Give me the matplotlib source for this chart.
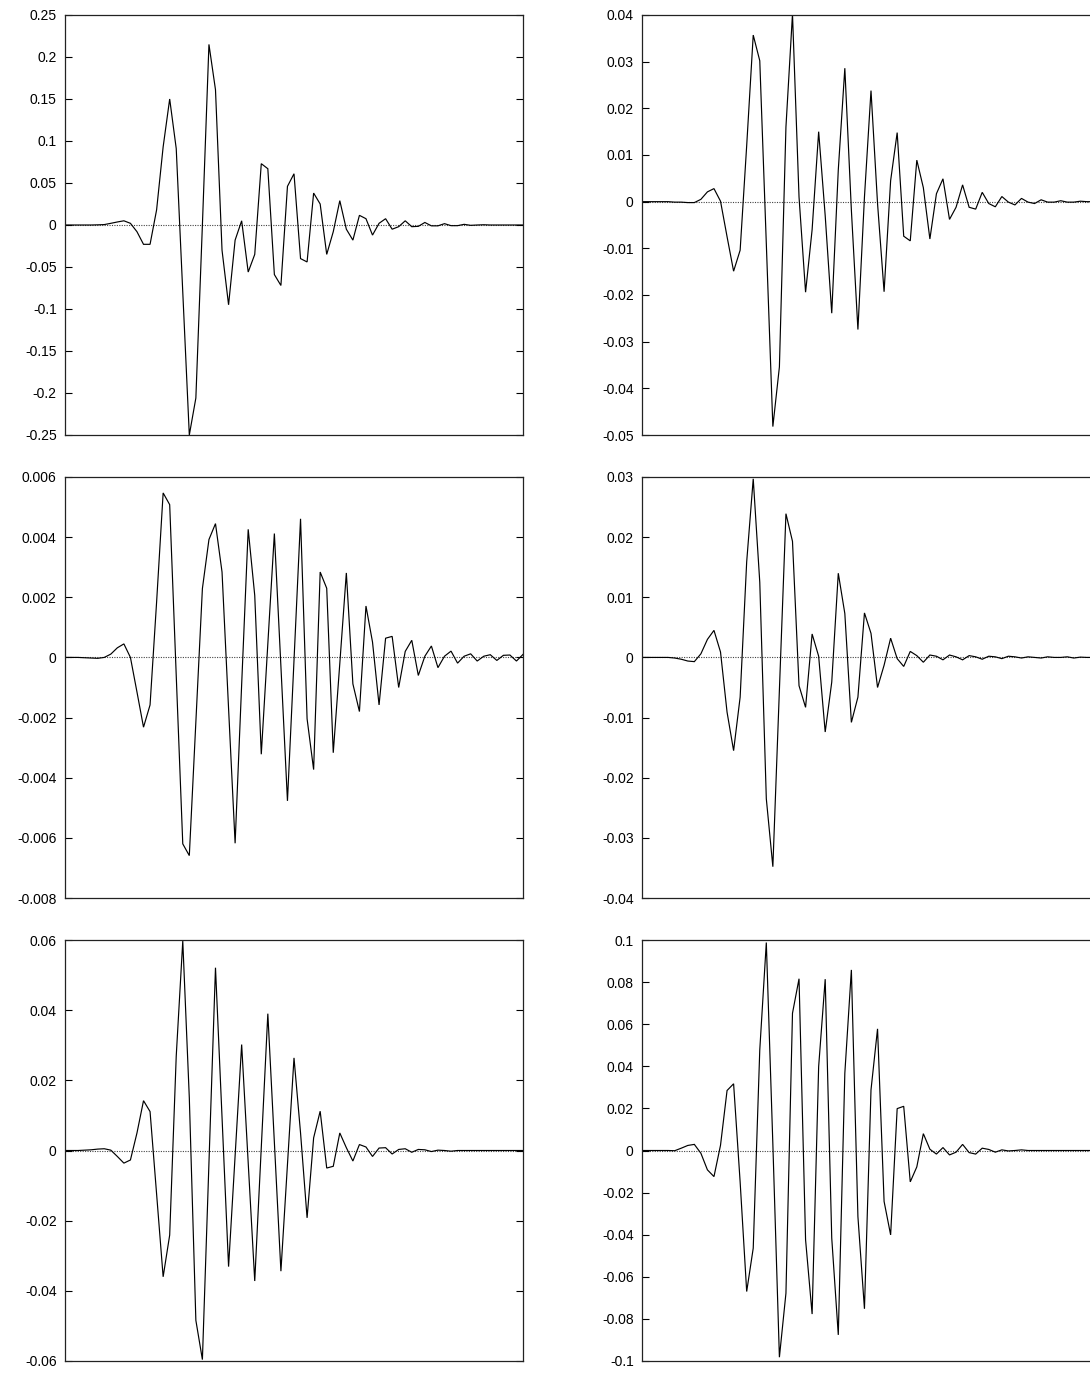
import numpy as np
import matplotlib
matplotlib.use("Agg")
import matplotlib.pyplot as plt

plt.rcParams["font.family"] = ["Liberation Sans", "DejaVu Sans"]
plt.rcParams["axes.unicode_minus"] = False

# Sample index shared by all six traces
n_samples = 71

trace_a = [0, 0, 0, 0, 0, 0.0002, 0.0005, 0.002, 0.0036, 0.005,
           0.002, -0.008, -0.023, -0.023, 0.018, 0.093, 0.150, 0.091, -0.08, -0.25,
           -0.206, 0.0, 0.215, 0.161, -0.030, -0.095, -0.018, 0.005, -0.056, -0.035,
           0.073, 0.067, -0.059, -0.072, 0.046, 0.061, -0.040, -0.044, 0.038, 0.025,
           -0.035, -0.008, 0.029, -0.005, -0.018, 0.0115, 0.0075, -0.012, 0.002, 0.0075,
           -0.005, -0.002, 0.005, -0.002, -0.0016, 0.003, -0.001, -0.001, 0.0016, -0.0008,
           -0.0008, 0.0008, -0.0004, 0, 0.0003, 0, 0, 0, 0, 0, 0]

trace_b = [0, 0, 0, 0, 0, -0.0001, -0.0001, -0.0002, -0.0002, 0.0005,
           0.0021, 0.0028, 0.0001, -0.0075, -0.0149, -0.0104, 0.012, 0.0357, 0.0302, -0.009,
           -0.0482, -0.0354, 0.016, 0.0402, 0.001, -0.0194, -0.006, 0.015, -0.003, -0.0239,
           0.0068, 0.0286, -0.0018, -0.0274, 0.001, 0.0238, -0.0004, -0.0193, 0.0045, 0.0148,
           -0.0074, -0.0084, 0.0089, 0.003, -0.008, 0.0017, 0.0049, -0.0038, -0.0012, 0.0036,
           -0.0012, -0.0016, 0.002, -0.0004, -0.0011, 0.0011, -0.0001, -0.0007, 0.0007, -0.0001,
           -0.0004, 0.0004, -0.0001, -0.0001, 0.0002, -0.0001, -0.0001, 0.0001, 0, 0, 0]

trace_c = [0, 0, 0, -0.00001, -0.00002, -0.00003, 0, 0.00011, 0.00032, 0.00045,
           0.0, -0.00115, -0.00232, -0.00158, 0.00184, 0.00547, 0.00508, -0.0006, -0.0062, -0.00659,
           -0.00215, 0.00229, 0.00392, 0.00445, 0.00284, -0.0017, -0.00618, -0.0009, 0.00426, 0.00206,
           -0.00322, 0.00045, 0.00412, -0.0003, -0.00477, -0.0001, 0.00461, -0.00204, -0.00373, 0.00284,
           0.0023, -0.00317, -0.0002, 0.00281, -0.00088, -0.0018, 0.00171, 0.00051, -0.00158, 0.00064,
           0.0007, -0.001, 0.0002, 0.00057, -0.0006, 0.00004, 0.00038, -0.00034, 0.00004, 0.00021,
           -0.00019, 0.00004, 0.00012, -0.00012, 0.00004, 0.00009, -0.0001, 0.00007, 0.00008, -0.00012,
           0.0001]

trace_d = [0, 0, 0, 0, 0, -0.0001, -0.0003, -0.0006, -0.0007, 0.0006,
           0.003, 0.0045, 0.0009, -0.0091, -0.0155, -0.0066, 0.0159, 0.0297, 0.0125, -0.0235,
           -0.0348, -0.0054, 0.0239, 0.0193, -0.0047, -0.0083, 0.0039, 0.0002, -0.0124, -0.0041,
           0.014, 0.0073, -0.0108, -0.0066, 0.0074, 0.004, -0.005, -0.0013, 0.0032, -0.0002,
           -0.0015, 0.001, 0.0003, -0.0008, 0.0004, 0.0002, -0.0004, 0.0004, 0.0001, -0.0004,
           0.0003, 0.0001, -0.0003, 0.0002, 0.0001, -0.0002, 0.0002, 0.0001, -0.0001, 0.0001,
           0, -0.0001, 0.0001, 0, 0, 0.0001, -0.0001, 0.00005, 0, 0, 0]

trace_e = [0, 0, 0, 0.0001, 0.0002, 0.0004, 0.0005, 0.0001, -0.0017, -0.0036,
           -0.0027, 0.005, 0.0142, 0.0111, -0.0124, -0.036, -0.0241, 0.0269, 0.0597, 0.015,
           -0.0484, -0.0596, -0.0036, 0.0521, 0.0095, -0.0331, -0.0015, 0.0302, -0.0035, -0.0372,
           0.0009, 0.039, 0.0023, -0.0344, -0.004, 0.0264, 0.005, -0.0192, 0.0036, 0.0112,
           -0.005, -0.0045, 0.005, 0.0008, -0.003, 0.0017, 0.001, -0.0017, 0.0007, 0.0008,
           -0.001, 0.0003, 0.0005, -0.0005, 0.0003, 0.0002, -0.0003, 0.0001, 0, -0.0002,
           0, 0, 0, 0, 0, 0, 0, 0, 0, 0, 0]

trace_f = [0, 0, 0, 0, 0, -0.0001, 0.0011, 0.0024, 0.0029, -0.0013,
           -0.0092, -0.0124, 0.0025, 0.0285, 0.0317, -0.015, -0.067, -0.0464, 0.0478, 0.0988,
           0.003, -0.0982, -0.0678, 0.0652, 0.0816, -0.0424, -0.0777, 0.0399, 0.0814, -0.0416,
           -0.0876, 0.0367, 0.0858, -0.0314, -0.0752, 0.0288, 0.0578, -0.0242, -0.0401, 0.0199,
           0.021, -0.0149, -0.0078, 0.008, 0.0006, -0.0017, 0.0014, -0.0021, -0.0008, 0.0029,
           -0.001, -0.0017, 0.0011, 0.0005, -0.0008, 0.0003, -0.0002, 0, 0.0003, 0,
           0, 0, 0, 0, 0, 0, 0, 0, 0, 0, 0]

# y-axis limits and tick step for each panel
limits_a, step_a = (-0.25, 0.25), 0.05
limits_b, step_b = (-0.05, 0.04), 0.01
limits_c, step_c = (-0.008, 0.006), 0.002
limits_d, step_d = (-0.04, 0.03), 0.01
limits_e, step_e = (-0.06, 0.06), 0.02
limits_f, step_f = (-0.1, 0.1), 0.02

W, H = 1090, 1376
fig = plt.figure(figsize=(W / 100, H / 100), dpi=100)

col_left = [65, 642]
panel_w = 458
row_spans = [(15, 435), (477, 898), (940, 1361)]

panels = [
    (trace_a, limits_a, step_a, 0, 0),
    (trace_b, limits_b, step_b, 0, 1),
    (trace_c, limits_c, step_c, 1, 0),
    (trace_d, limits_d, step_d, 1, 1),
    (trace_e, limits_e, step_e, 2, 0),
    (trace_f, limits_f, step_f, 2, 1),
]

x = np.arange(n_samples)

for trace, lims, step, r, c in panels:
    top, bot = row_spans[r]
    ax = fig.add_axes([col_left[c] / W, 1 - bot / H, panel_w / W, (bot - top) / H])
    ax.plot(x, trace, color="black", lw=0.85, solid_joinstyle="miter")
    ax.axhline(0, color="#444444", lw=0.8, ls=(0, (1, 1.2)), zorder=1)
    ax.set_xlim(0, n_samples - 1)
    ax.set_ylim(*lims)
    nt = int(round((lims[1] - lims[0]) / step)) + 1
    ticks = np.round(np.linspace(lims[0], lims[1], nt), 6)
    ax.set_yticks(ticks)
    ax.set_yticklabels(["{:g}".format(t) if abs(t) > 1e-12 else "0" for t in ticks])
    ax.set_xticks([])
    ax.tick_params(axis="y", direction="in", length=5, width=0.8, right=True,
                   labelsize=10, pad=6, colors="black")
    for sp in ax.spines.values():
        sp.set_linewidth(0.9)
        sp.set_color("#222222")

fig.savefig("out.png", dpi=100)
